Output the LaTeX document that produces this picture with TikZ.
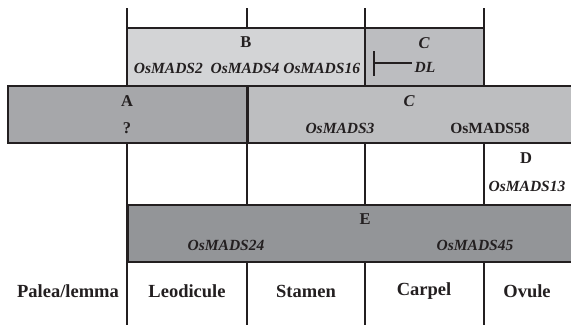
\documentclass[tikz,border=0pt]{standalone}
\usepackage{fontspec}
\setmainfont{Liberation Serif}
\usetikzlibrary{arrows.meta, positioning}
\definecolor{inkdark}{HTML}{231F20}
\definecolor{greyB}{HTML}{D3D4D6}
\definecolor{greyCtop}{HTML}{BCBDC0}
\definecolor{greyA}{HTML}{A6A7AA}
\definecolor{greyC}{HTML}{BDBEC0}
\definecolor{greyE}{HTML}{939598}

\begin{document}
\begin{tikzpicture}[x=1pt, y=-1pt,
    box/.style={draw=inkdark, line width=1.8pt, inner sep=0pt,
                minimum height=57pt},
    letter/.style={text=inkdark, font=\bfseries\fontsize{16.5}{19}\selectfont},
    gene/.style={text=inkdark, font=\bfseries\itshape\fontsize{15.5}{18}\selectfont},
    organ/.style={text=inkdark, font=\bfseries\fontsize{18.5}{21}\selectfont}]
  \useasboundingbox (0,0) rectangle (571,325);
  \begin{scope}
  \clip (0,0) rectangle (571,325);
  % whorl dividers
  \foreach \x in {127,247,365,484}
    \draw[inkdark, line width=1.8pt] (\x,8) -- (\x,325);
  % class boxes
  \node[box, fill=greyB, minimum width=238pt, minimum height=58pt] (bbox) at (246,57) {};
  \node[box, fill=greyCtop, minimum width=119pt, minimum height=58pt] (ctop) at (424.5,57) {};
  \node[box, fill=greyA, minimum width=239pt] (abox) at (127.5,114.5) {};
  \node[box, fill=greyC, minimum width=353pt, anchor=west] (cbox) at (247,114.5) {};
  \node[box, fill=greyE, minimum width=473pt, anchor=west] (ebox) at (127,233.5) {};
  \end{scope}
  % B
  \node[letter] (bl) at (246,42) {B};
  \node[gene] (bg) at (247,68) {OsMADS2\ \ OsMADS4 OsMADS16};
  % C and DL
  \node[letter, font=\bfseries\itshape\fontsize{16.5}{19}\selectfont] (cl) at (424,43) {C};
  \node[gene, inner sep=2pt] (dl) at (425,67) {DL};
  \coordinate (inh) at (373,63);
  \draw[{Bar[width=25pt, line width=2pt]}-, inkdark, line width=2pt] (inh) -- (dl.west |- inh);
  % A
  \node[letter] (al) at (127,101) {A};
  \node[letter] (ag) at (127,128) {?};
  % C
  \node[letter, font=\bfseries\itshape\fontsize{16.5}{19}\selectfont] (cl2) at (409,101) {C};
  \node[gene] (cg1) at (340,128) {OsMADS3};
  \node[letter, font=\bfseries\fontsize{15.5}{18}\selectfont] (cg2) at (490,128) {OsMADS58};
  % D
  \node[letter] (dll) at (526,158) {D};
  \node[gene] (dg) at (527,186) {OsMADS13};
  % E
  \node[letter] (el) at (365,219) {E};
  \node[gene] (eg1) at (226,245) {OsMADS24};
  \node[gene] (eg2) at (475,245) {OsMADS45};
  % floral organs
  \foreach \lab/\x [count=\i] in {{Palea/lemma}/68, Leodicule/187, Stamen/306,
                                  Carpel/424, Ovule/527}
    \node[organ] (o\i) at (\x,291) {\lab};
\end{tikzpicture}
\end{document}
